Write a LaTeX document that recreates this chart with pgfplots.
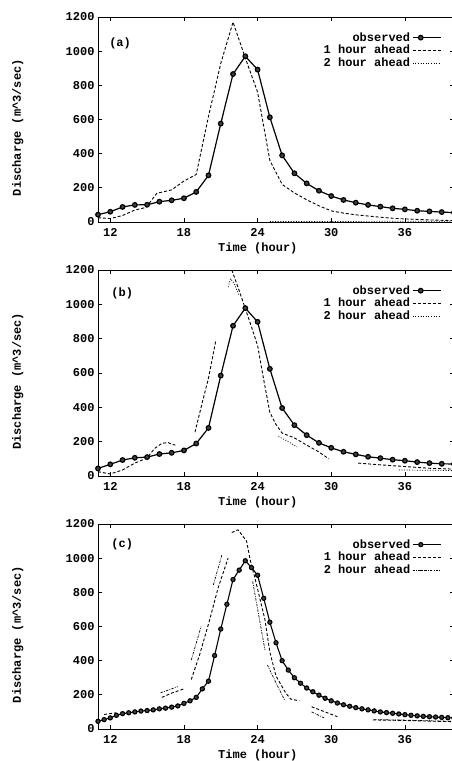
\documentclass[border=0pt]{standalone}
\usepackage{fontspec}
\setmainfont{Liberation Mono}
\usepackage{pgfplots}
\pgfplotsset{compat=1.18}

\newcommand{\lfont}{\bfseries\fontsize{12}{12}\selectfont}

\pgfplotsset{
  flood/.style={
    scale only axis, width=356pt, height=205pt,
    xmin=11, xmax=40, ymin=0, ymax=1200,
    xtick={12,18,24,30,36}, ytick={0,200,...,1200},
    /pgf/number format/assume math mode=true,
    /pgf/number format/1000 sep={},
    tick label style={font=\lfont},
    xticklabel style={yshift=-3pt},
    label style={font=\lfont},
    xlabel={Time (hour)},
    ylabel={Discharge (m\textasciicircum 3/sec)},
    xlabel style={at={(axis description cs:0.449,-0.127)}, anchor=center},
    ylabel style={at={(axis description cs:-0.225,0.46)}, anchor=center},
    axis line style={line width=0.9pt},
    major tick style={line width=0.7pt, black},
    unbounded coords=jump,
    legend style={draw=none, fill=none, font=\lfont,
      at={(axis description cs:0.965,0.935)}, anchor=north east,
      row sep=-1.5pt, inner sep=0pt},
    legend cell align=right,
    legend plot pos=right,
    legend image code/.code={\draw[##1, mark repeat=3, mark phase=2]
      plot coordinates {(0pt,0pt) (8pt,0pt) (28pt,0pt)};},
  },
  obs/.style={black, line width=1.2pt, mark=*, mark size=2.3pt,
    mark options={solid, fill=black!75}},
  one/.style={black, line width=0.9pt, dash pattern=on 3pt off 2pt},
  two/.style={black, line width=0.7pt, dash pattern=on 1pt off 1.6pt},
}

\begin{document}
\begin{tikzpicture}

% (a)
\begin{axis}[flood, at={(98pt,539pt)}, anchor=south west]
\addplot[obs] coordinates {
 (11,43) (12,60) (13,88) (14,100) (15,101) (16,119) (17,127) (18,139)
 (19,176) (20,273) (21,576) (22,866) (23,970) (24,892) (25,613) (26,390)
 (27,285) (28,226) (29,183) (30,152) (31,129) (32,113) (33,100) (34,90)
 (35,80) (36,74) (37,66) (38,62) (39,58) (40,55)};
\addplot[one] coordinates {
 (11,25) (12,20) (13,38) (14,70) (14.9,85) (15.8,168) (17,188) (18,240)
 (19,278) (20,618) (21,928) (22,1170) (23,960) (24,760) (25,360) (26,220)
 (27,170) (28,130) (29,95) (30,65) (31,52) (32,42) (33,35) (34,28)
 (35,22) (36,18) (37,15) (38,12) (39,10) (40,8)};
\addplot[two] coordinates {(25,3) (30,3) (35,4) (40,5)};
\legend{observed, 1 hour ahead, 2 hour ahead}
\node[font=\lfont] at (axis description cs:0.062,0.873) {(a)};
\end{axis}

% (b)
\begin{axis}[flood, height=206pt, at={(98pt,285pt)}, anchor=south west]
\addplot[obs] coordinates {
 (11,44) (12,68) (13,93) (14,106) (15,110) (16,128) (17,135) (18,149)
 (19,189) (20,280) (21,585) (22,875) (23,978) (24,898) (25,624) (26,396)
 (27,296) (28,238) (29,193) (30,164) (31,141) (32,126) (33,112) (34,104)
 (35,95) (36,89) (37,81) (38,75) (39,71) (40,70)};
\addplot[one] coordinates {
 (11,25) (12,12) (13,35) (14,75) (15,105) (15.6,160) (16.2,190) (16.7,195)
 (17.0,185) (17.3,180) (nan,nan)
 (18.9,255) (19.5,430) (20,570) (20.6,790) (nan,nan)
 (21.9,1200) (22.5,1080) (23,975) (23.5,870) (24,760) (24.5,560) (25,370)
 (25.5,300) (26,250) (27,222) (28,180) (29,140) (29.8,100) (nan,nan)
 (32.2,75) (34,65) (36,55) (38,45) (40,40)};
\addplot[two] coordinates {
 (21.6,1100) (21.8,1150) (22.1,1120) (22.5,1050) (nan,nan)
 (25.7,230) (26.5,200) (27.2,170) (nan,nan)
 (35.5,35) (40,32)};
\legend{observed, 1 hour ahead, 2 hour ahead}
\node[font=\lfont] at (axis description cs:0.068,0.884) {(b)};
\end{axis}

% (c)
\begin{axis}[flood, at={(98pt,32pt)}, anchor=south west]
\addplot[obs, mark size=2.1pt, line width=1.1pt] coordinates {
 (11,45) (11.5,55) (12,65) (12.5,80) (13,90) (13.5,95) (14,100) (14.5,105)
 (15,108) (15.5,112) (16,118) (16.5,122) (17,128) (17.5,135) (18,150)
 (18.5,165) (19,185) (19.5,235) (20,280) (20.5,430) (21,585) (21.5,730)
 (22,875) (22.5,930) (23,985) (23.5,945) (24,900) (24.5,765) (25,625)
 (25.5,505) (26,400) (26.5,345) (27,300) (27.5,268) (28,240) (28.5,218)
 (29,198) (29.5,180) (30,165) (30.5,152) (31,142) (31.5,133) (32,125)
 (32.5,118) (33,112) (33.5,106) (34,100) (34.5,96) (35,92) (35.5,88)
 (36,84) (36.5,80) (37,77) (37.5,74) (38,72) (38.5,70) (39,68) (39.5,66)
 (40,64)};
\addplot[one] coordinates {
 (11.5,85) (12.5,95) (nan,nan)
 (16.2,185) (17,210) (18,235) (nan,nan)
 (18.6,290) (19.3,440) (20.1,640) (20.8,830) (21.6,1000) (nan,nan)
 (21.9,1150) (22.4,1166) (23.1,1100) (23.4,990) (23.9,850) (24.6,640)
 (25.0,450) (25.5,310) (26.3,210) (26.7,175) (27.4,165) (nan,nan)
 (28.4,130) (29.5,100) (30.5,72) (nan,nan)
 (33.4,53) (36,50) (38,46) (40,43)};
\addplot[two, dash pattern=on 2.5pt off 1.2pt on 0.8pt off 1.2pt] coordinates {
 (16.1,212) (17.5,248) (nan,nan)
 (18.6,404) (19.4,600) (nan,nan)
 (20.4,844) (21.1,1020) (nan,nan)
 (23.6,864) (24.6,463) (nan,nan)
 (24.8,375) (25.5,270) (26.2,170) (nan,nan)
 (28.4,100) (29.5,62) (nan,nan)
 (33.5,55) (36,52) (38,48) (40,45)};
\legend{observed, 1 hour ahead, 2 hour ahead}
\node[font=\lfont] at (axis description cs:0.068,0.9) {(c)};
\end{axis}

\pgfresetboundingbox
\path (0pt,0pt) rectangle (452pt,761pt);
\end{tikzpicture}
\end{document}
